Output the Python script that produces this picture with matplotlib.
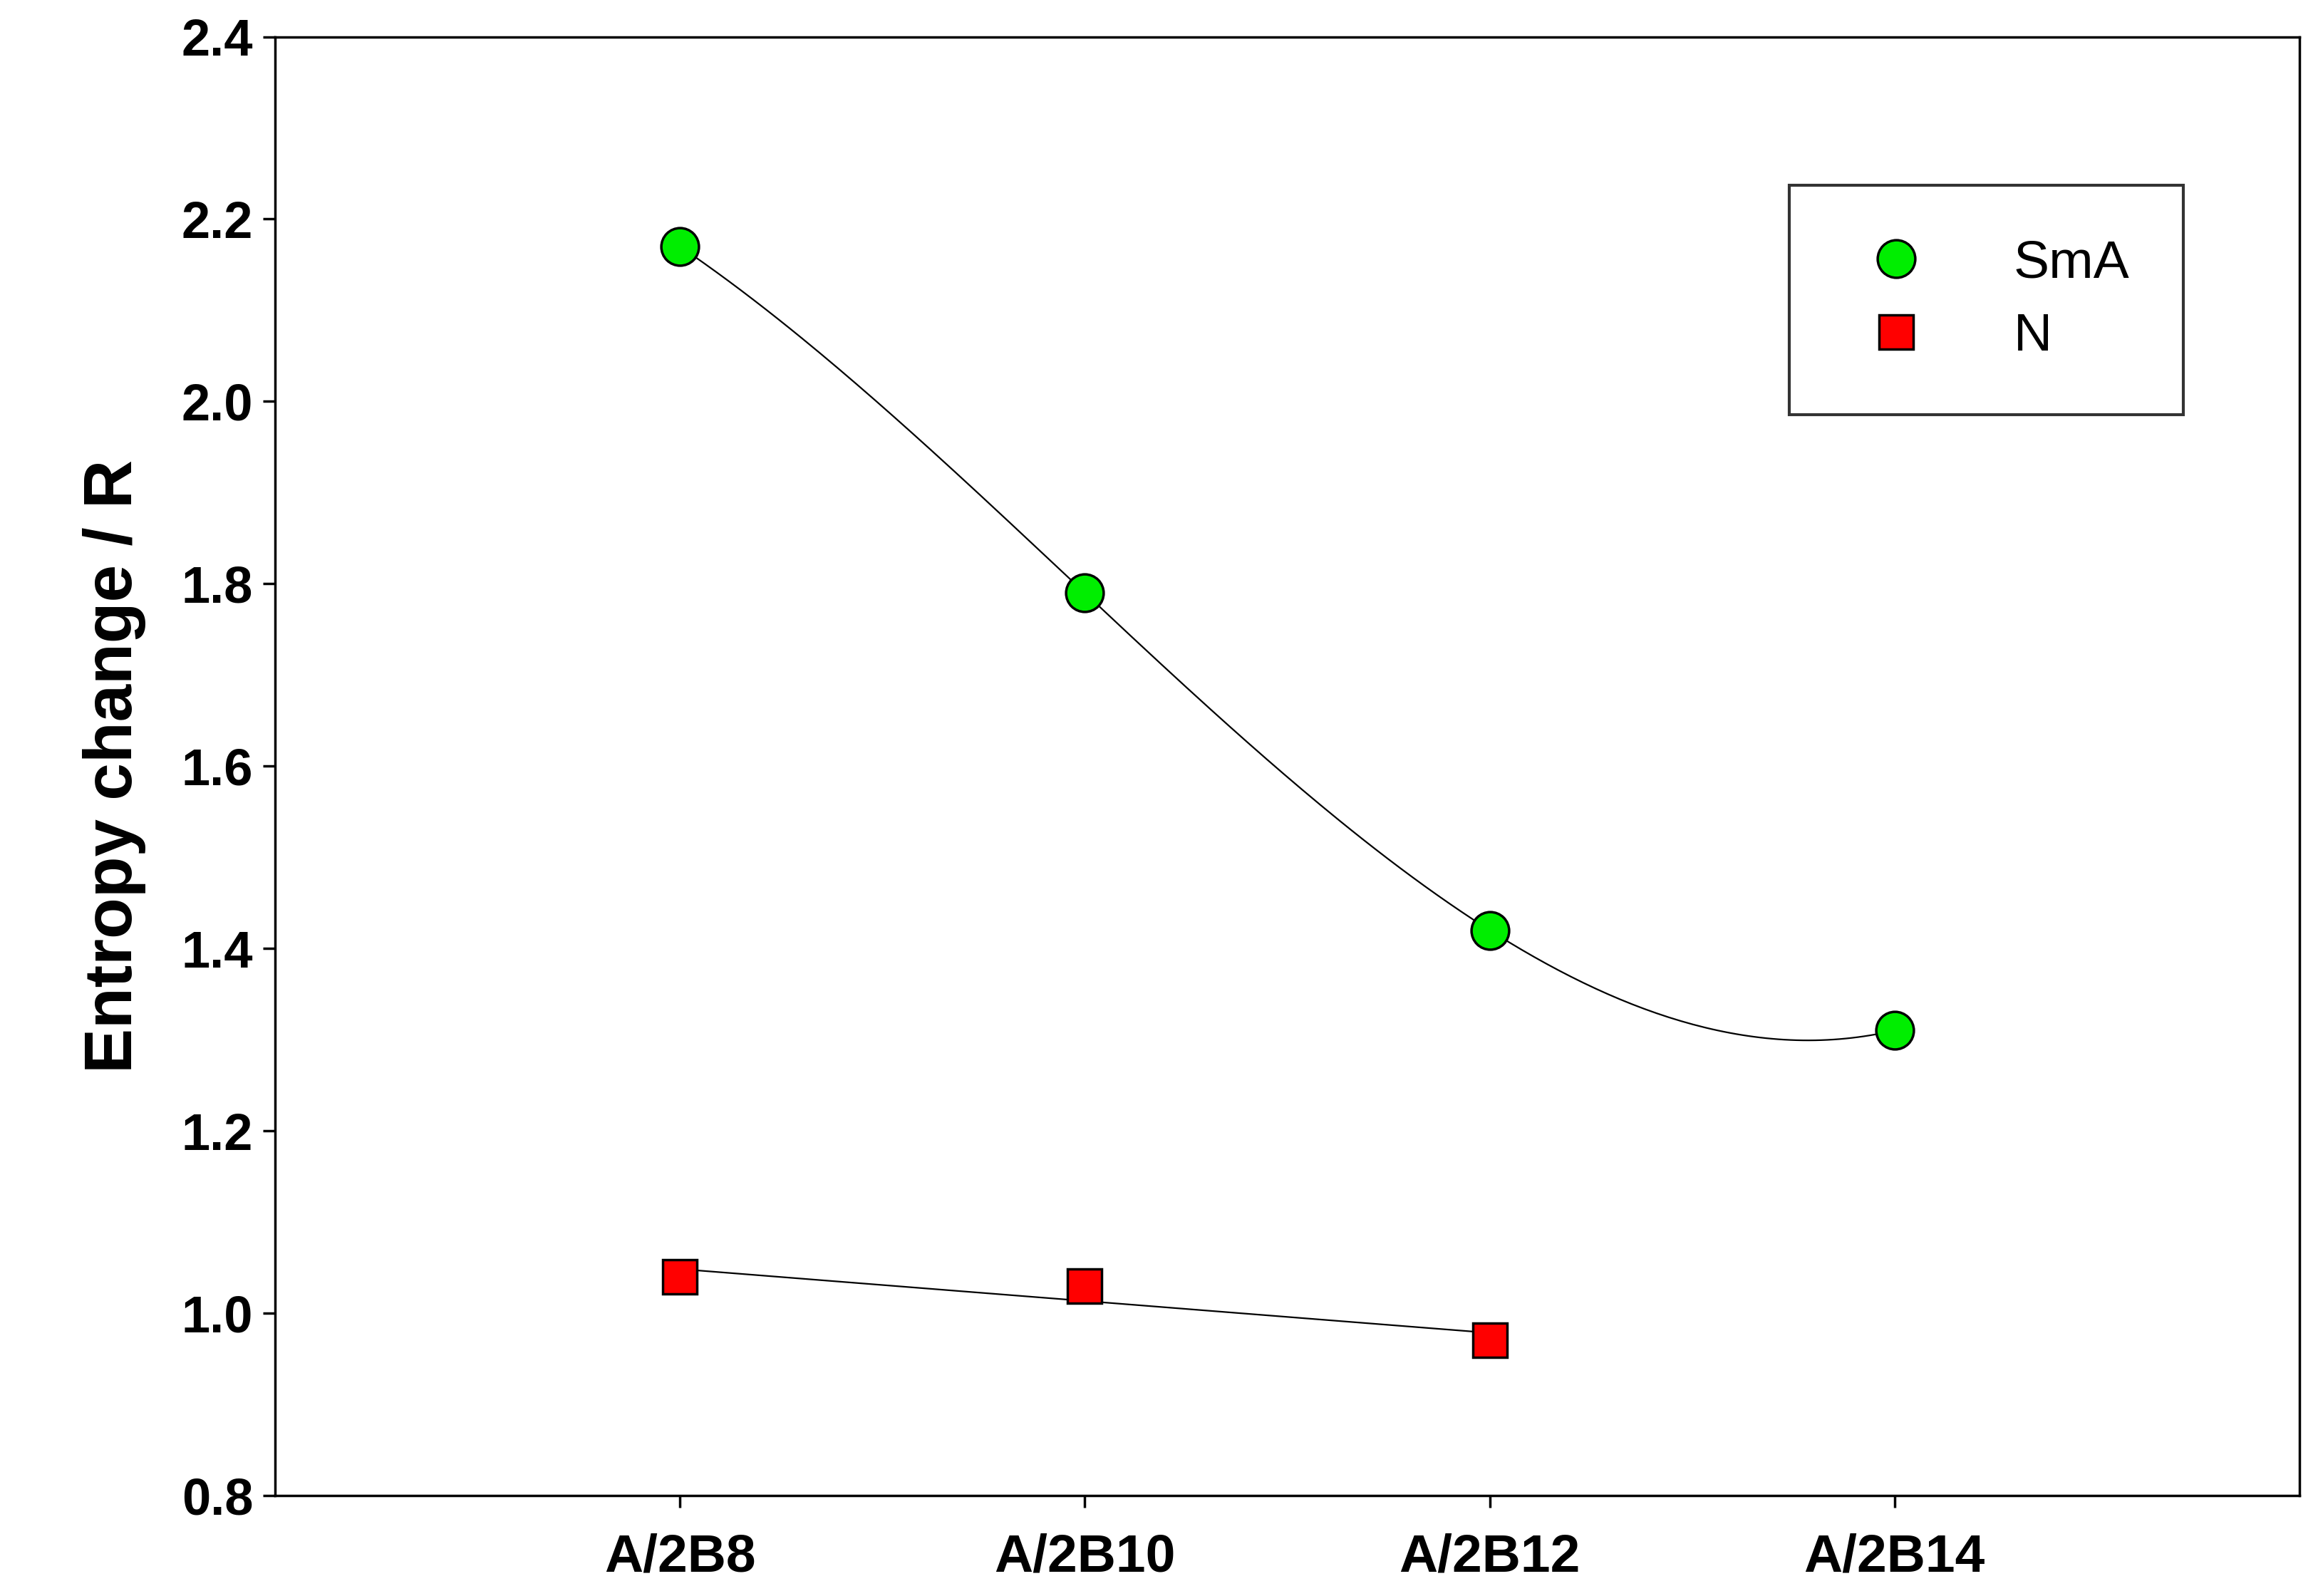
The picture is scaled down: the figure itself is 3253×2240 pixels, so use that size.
import numpy as np
import matplotlib.pyplot as plt

plt.rcParams['font.family'] = ['Liberation Sans', 'DejaVu Sans']

categories = ["A/2B8", "A/2B10", "A/2B12", "A/2B14"]
sma_values = [2.17, 1.79, 1.42, 1.31]
n_values = [1.04, 1.03, 0.97]

fig = plt.figure(figsize=(32.53, 22.40), dpi=100)
ax = fig.add_axes([0.1186, 0.063, 0.8734, 0.914])

x_sma = np.arange(len(sma_values))
x_n = np.arange(len(n_values))

# smooth curves through the points
xs = np.linspace(0, 3, 200)
ax.plot(xs, np.polyval(np.polyfit(x_sma, sma_values, 3), xs), color='black', lw=1.6, zorder=2)
xn = np.linspace(0, 2, 100)
ax.plot(xn, np.polyval(np.polyfit(x_n, n_values, 1), xn), color='black', lw=1.6, zorder=2)

ax.plot(x_sma, sma_values, 'o', color='#00ee00', mec='black', mew=2.5, ms=38, ls='none', label='SmA', zorder=3)
ax.plot(x_n, n_values, 's', color='#ff0000', mec='black', mew=2.5, ms=34, ls='none', label='N', zorder=3)

ax.set_xlim(-1, 4)
ax.set_ylim(0.8, 2.4)
ax.set_yticks(np.arange(0.8, 2.41, 0.2))
ax.set_yticklabels([f"{v:.1f}" for v in np.arange(0.8, 2.41, 0.2)], fontweight='bold', fontsize=52)
ax.set_xticks(range(len(categories)))
ax.set_xticklabels(categories, fontweight='bold', fontsize=54)
ax.tick_params(axis='both', direction='out', length=12, width=2.5, pad=10)
ax.tick_params(axis='x', pad=26)
for s in ax.spines.values():
    s.set_linewidth(2.5)

ax.set_ylabel('Entropy change / R', fontweight='bold', fontsize=68, labelpad=36)

leg = ax.legend(loc='upper left', bbox_to_anchor=(0.748, 0.898), fontsize=54, frameon=True,
                fancybox=False, edgecolor='black', borderpad=1.0, labelspacing=0.45,
                handletextpad=1.2, borderaxespad=0, markerscale=1.0)
leg.get_frame().set_linewidth(3)

fig.savefig('out.png', dpi=100, facecolor='white')
